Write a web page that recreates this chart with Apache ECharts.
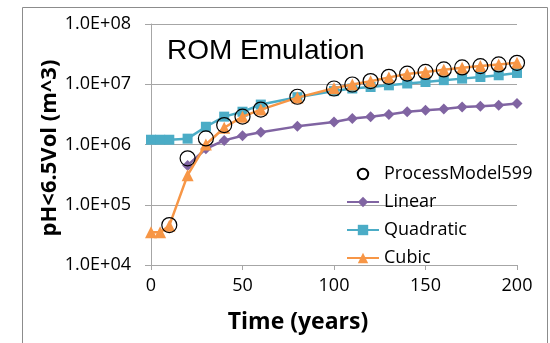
<!DOCTYPE html>
<html><head><meta charset="utf-8">
<script src="https://cdn.jsdelivr.net/npm/echarts@6/dist/echarts.min.js"></script>
<style>html,body{margin:0;padding:0;background:#fff}#c{width:550px;height:343px}</style>
</head><body><div id="c"></div>
<script>
var years = [0,5,10,20,30,40,50,60,80,100,110,120,130,140,150,160,170,180,190,200];
var processModel = [null,null,4.6e4,5.9e5,1.26e6,2.1e6,2.9e6,3.8e6,6.2e6,8.5e6,9.9e6,1.13e7,1.33e7,1.5e7,1.6e7,1.76e7,1.9e7,2.0e7,2.13e7,2.27e7];
var linear = [null,null,null,4.5e5,8.5e5,1.17e6,1.4e6,1.6e6,2.0e6,2.36e6,2.7e6,2.9e6,3.16e6,3.5e6,3.7e6,3.9e6,4.2e6,4.3e6,4.5e6,4.8e6];
var quadratic = [1.2e6,1.2e6,1.2e6,1.25e6,1.97e6,2.9e6,3.5e6,4.6e6,6.1e6,7.7e6,8.5e6,9.0e6,9.6e6,1.03e7,1.09e7,1.17e7,1.24e7,1.32e7,1.41e7,1.54e7];
var cubic = [3.5e4,3.5e4,4.5e4,3.1e5,1.0e6,1.9e6,2.9e6,3.8e6,6.0e6,8.6e6,9.9e6,1.12e7,1.3e7,1.48e7,1.6e7,1.74e7,1.88e7,2.0e7,2.12e7,2.27e7];
var seriesNames = ['ProcessModel599','Linear','Quadratic','Cubic'];
var xTicks = [0,50,100,150,200];

function pairs(arr){ return years.map(function(y,i){ return [y, arr[i]]; }); }
var font = 'Open Sans';
var chart = echarts.init(document.getElementById('c'));
chart.setOption({
  animation:false,
  backgroundColor:'#fff',
  grid:{left:151,right:33,top:24,bottom:78},
  xAxis:{type:'value',min:xTicks[0],max:xTicks[xTicks.length-1],interval:50,
    axisLine:{lineStyle:{color:'#A6A6A6'}},
    axisTick:{inside:false,length:5,lineStyle:{color:'#A6A6A6'}},
    splitLine:{show:false},
    axisLabel:{fontFamily:font,fontSize:18,color:'#000',margin:12}},
  yAxis:{type:'log',logBase:10,min:1e4,max:1e8,
    axisLine:{show:true,lineStyle:{color:'#A6A6A6'}},
    axisTick:{show:true,inside:false,length:6,lineStyle:{color:'#A6A6A6'}},
    splitLine:{lineStyle:{color:'#A6A6A6'}},
    minorTick:{show:false},
    axisLabel:{fontFamily:font,fontSize:18,color:'#000',margin:20,
      formatter:function(v){ var e=Math.round(Math.log10(v)); return '1.0E+'+(e<10?'0':'')+e; }}},
  legend:{orient:'vertical',align:'left',left:346,top:165,padding:0,itemWidth:32,itemHeight:13,itemGap:10,
    textStyle:{fontFamily:font,fontSize:18,color:'#000'},
    data:seriesNames},
  graphic:[
    {type:'rect',shape:{x:22.5,y:7.5,width:525,height:400},style:{fill:'none',stroke:'#8c8c8c',lineWidth:1},silent:true},
    {type:'text',left:167,top:37,style:{text:'ROM Emulation',font:'28px "Liberation Sans"',fill:'#000'}},
    {type:'text',x:298,y:322,style:{text:'Time (years)',font:'bold 23px "'+font+'"',fill:'#000',align:'center',verticalAlign:'middle'}},
    {type:'text',x:50,y:148,rotation:Math.PI/2,style:{text:'pH<6.5Vol (m^3)',font:'bold 22px "'+font+'"',fill:'#000',align:'center',verticalAlign:'middle'}}
  ],
  series:[
    {name:seriesNames[1],type:'line',data:pairs(linear),symbol:'diamond',symbolSize:11,
      lineStyle:{color:'#8064A2',width:2.5},itemStyle:{color:'#8064A2'},z:2},
    {name:seriesNames[2],type:'line',data:pairs(quadratic),symbol:'rect',symbolSize:10,
      lineStyle:{color:'#4BACC6',width:2.5},itemStyle:{color:'#4BACC6'},z:3},
    {name:seriesNames[3],type:'line',data:pairs(cubic),symbol:'triangle',symbolSize:12,
      lineStyle:{color:'#F79646',width:2.5},itemStyle:{color:'#F79646'},z:4},
    {name:seriesNames[0],type:'line',data:pairs(processModel),symbol:'circle',symbolSize:15,
      lineStyle:{width:0,opacity:0},itemStyle:{color:'rgba(0,0,0,0)',borderColor:'#000',borderWidth:1.2},z:5}
  ]
});
</script></body></html>
